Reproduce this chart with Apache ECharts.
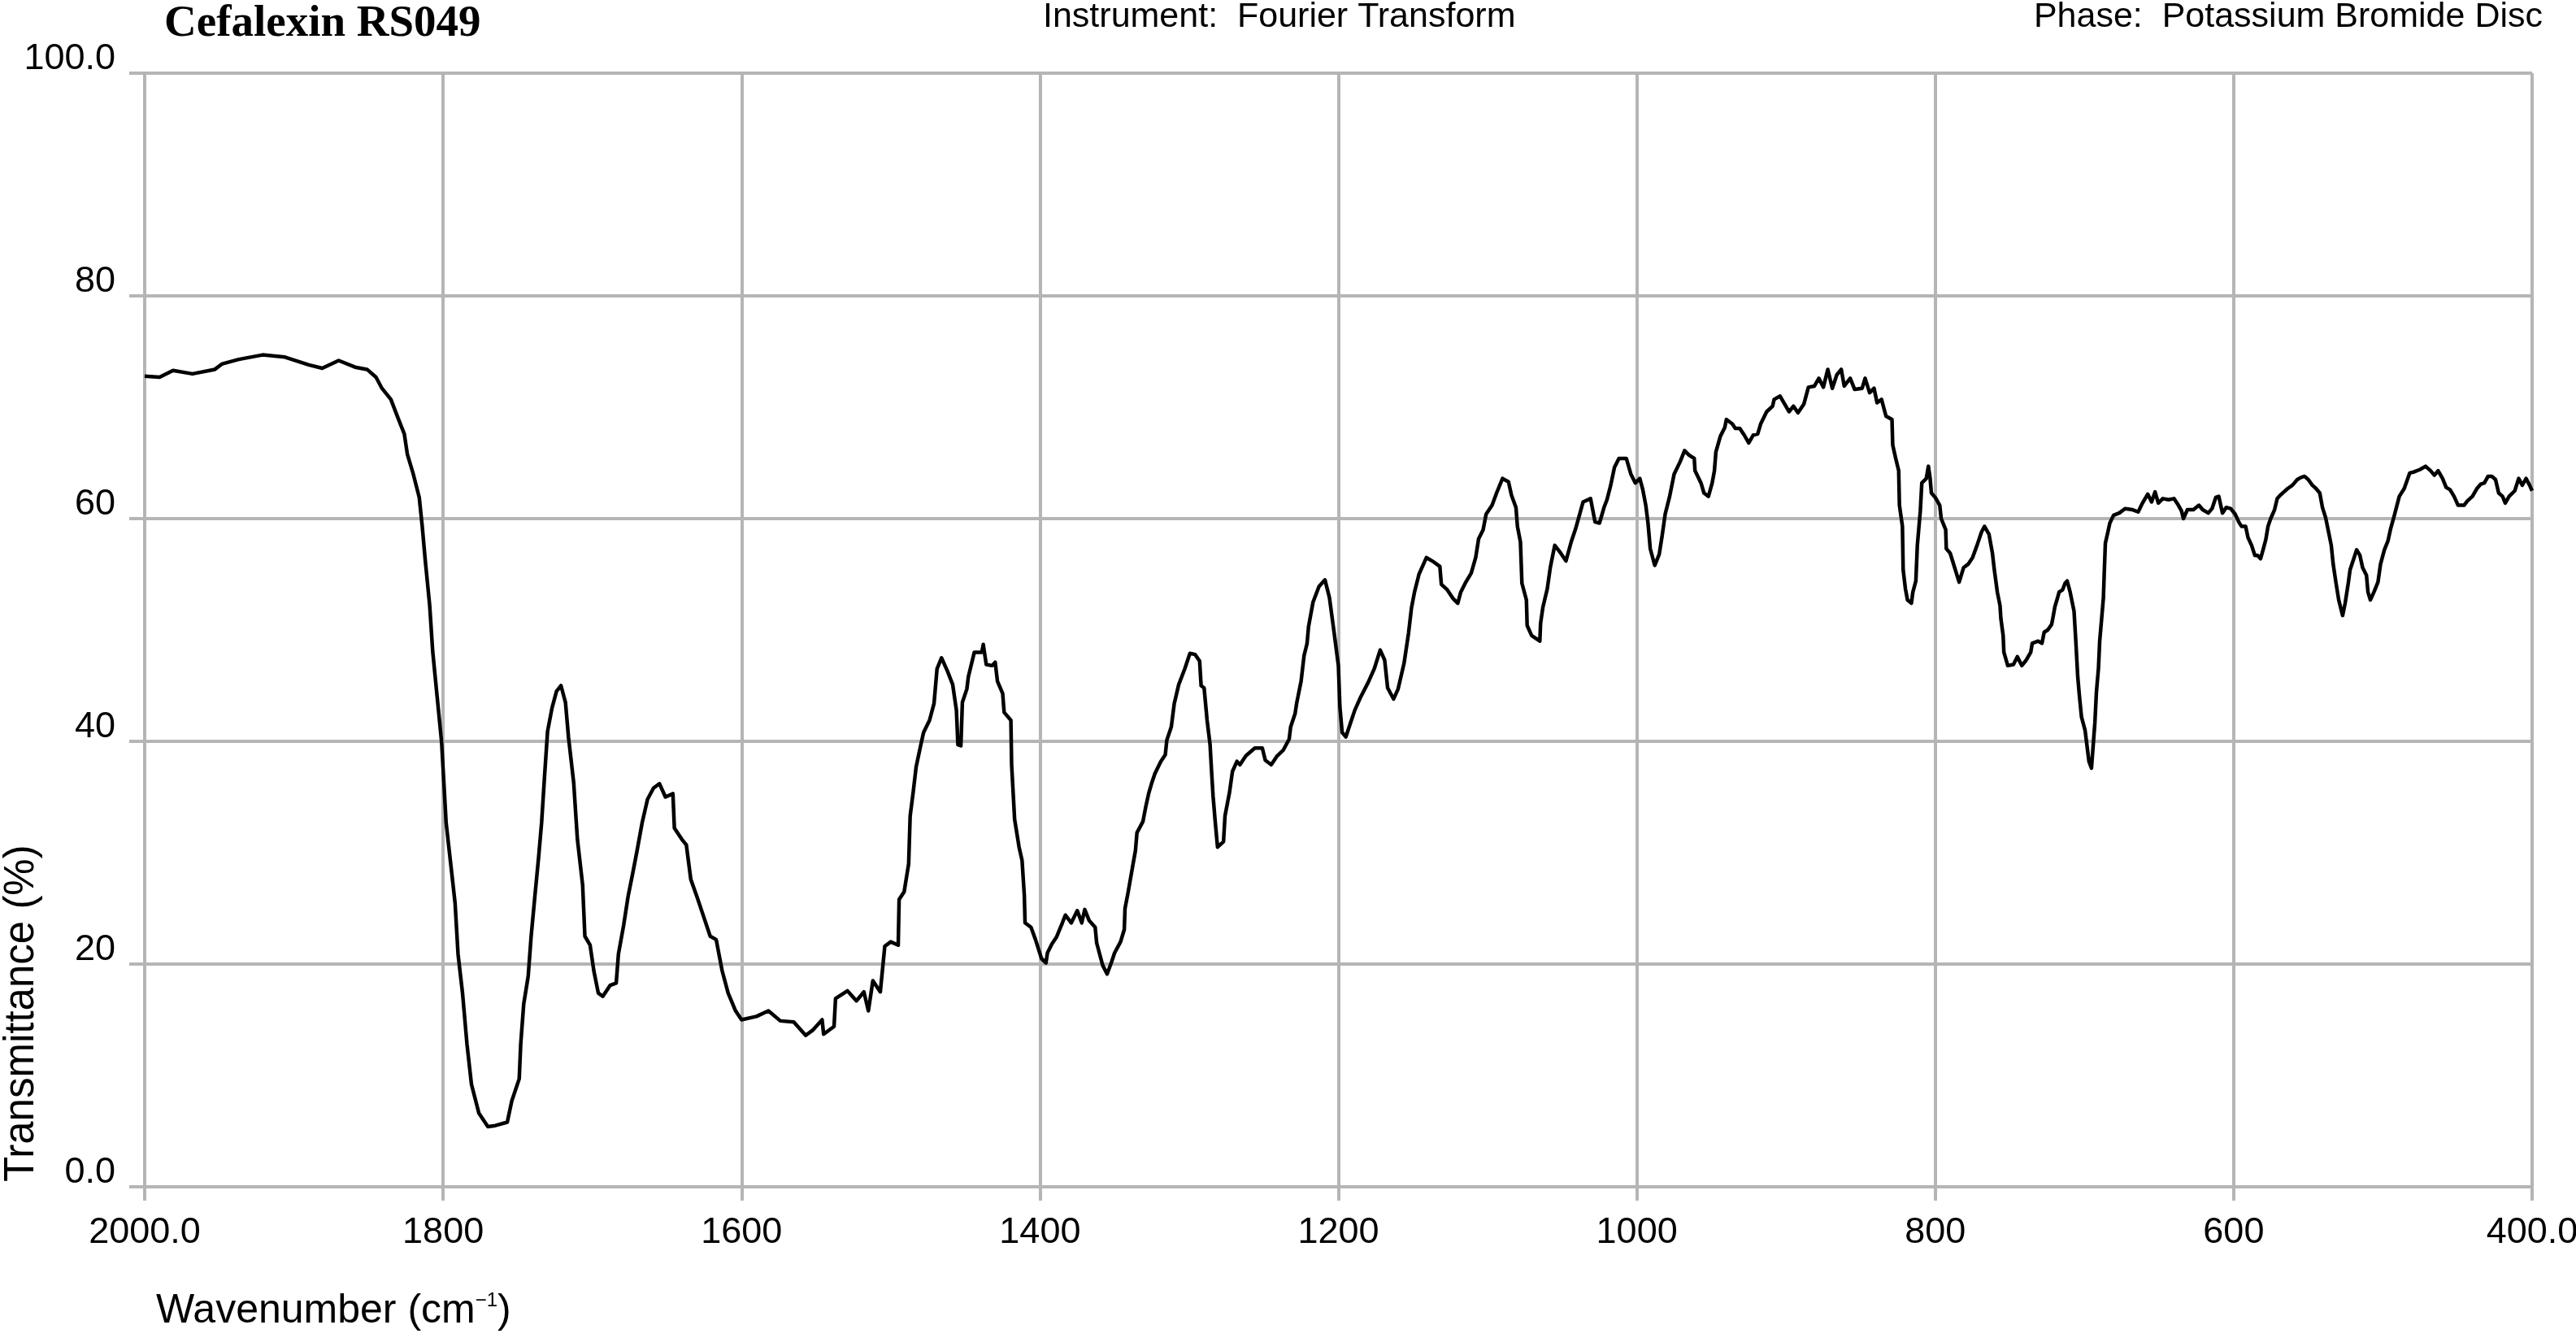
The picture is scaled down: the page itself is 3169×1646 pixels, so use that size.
<!DOCTYPE html>
<html>
<head>
<meta charset="utf-8">
<script src="https://cdn.jsdelivr.net/npm/echarts@6/dist/echarts.min.js"></script>
<style>
html,body{margin:0;padding:0;background:#ffffff;}
#chart{width:3169px;height:1646px;}
</style>
</head>
<body>
<div id="chart"></div>
<script>
// ---- texts ----
const chartTitle = 'Cefalexin RS049';
const instrumentText = 'Instrument:  Fourier Transform';
const phaseText = 'Phase:  Potassium Bromide Disc';
const xAxisTitleMain = 'Wavenumber (cm';
const xAxisTitleSup = '\u22121';
const xAxisTitleEnd = ')';
const yAxisTitle = 'Transmittance (%)';

// ---- tick labels ----
const xTickValues = [2000, 1800, 1600, 1400, 1200, 1000, 800, 600, 400];
const xTickLabels = ['2000.0', '1800', '1600', '1400', '1200', '1000', '800', '600', '400.0'];
const yTickValues = [0, 20, 40, 60, 80, 100];
const yTickLabels = ['0.0', '20', '40', '60', '80', '100.0'];

// ---- spectrum ----
const wavenumber = [
  2000,1990,1981,1968,1953,1948,1937,1921,1906,1890,
  1881,1870,1859,1851,1845,1841,1835,1831,1826,1824,
  1820,1816,1814,1812,1809,1807,1804,1801,1799.5,1798,
  1795,1792,1790,1787,1784,1781,1776,1770,1765,1757,
  1754,1749,1748,1746,1743,1741,1738.5,1736,1734,1732,
  1730,1727,1724,1721,1718,1716,1712.5,1710,1706.5,1705,
  1701.5,1699,1696,1693,1688,1684,1682.5,1679,1676,1673,
  1670,1666.6,1663,1659,1655,1651,1646,1645,1640,1637,
  1634,1630,1626,1621,1617,1613,1609,1604,1600,1590,
  1582,1574,1565,1557,1552,1546,1545,1538,1537,1529,
  1523,1518,1515,1512,1507,1504,1500,1495,1494.4,1491,
  1488,1487,1485,1483,1480,1478,1474,1471,1469,1466,
  1462,1458.5,1456,1455,1453,1452,1449,1448,1444,1439,
  1438,1436,1432,1430,1428.5,1425,1424,1419.5,1419,1417,
  1414,1412,1410.5,1410,1406,1403,1399,1396,1395,1392,
  1389,1385,1383,1379,1375,1372,1370,1367,1363,1362,
  1358,1355,1352,1350,1346,1343.5,1343,1341,1338,1336,
  1335,1331,1329,1327,1325,1323,1319,1316,1315,1312,
  1310,1307,1303,1299.5,1296,1293,1292,1290,1288,1286,
  1285,1284,1282.5,1281,1277,1276,1273,1271,1268,1266,
  1262,1256,1251,1249,1245,1241,1237,1233,1232,1229,
  1228,1225,1223,1221,1220,1217,1213,1209,1206,1203,
  1200,1199,1197.5,1195,1192,1189,1185,1180,1176,1172,
  1169,1167,1163,1160,1156,1153,1151,1149,1146,1143,
  1141,1136,1132,1131,1127,1123,1120,1118,1115,1111,
  1108,1106,1103,1101,1097,1094,1090,1086,1084,1081,
  1080,1078,1077,1074,1073.5,1070.5,1065,1064.5,1063,1060,
  1058,1055,1051,1047.5,1044,1041,1036,1031,1028,1025,
  1022,1020,1017.5,1015,1012,1007,1004,1001,998,996,
  994,992.5,991,988,985,983,981,978,975,971,
  968,965,961.5,961,957,955,952,949.5,948,947,
  944,941,940,936,934,931,928,925,922,919,
  917,913,909,908,904,901,898,895,892,888,
  885,881,878,875,872,869,866,863,861,857,
  854,849,847,844,841,839,836,833,829,828.5,
  826.5,824.5,824,822,821.5,820,818.6,816,815,813,
  812,810,809,806,804.6,803.5,802.6,800,797,796,
  793,792.6,790,787,784,781,778,775,772,769,
  767,764,761.7,760.4,758.4,756.6,756,754.5,754,751.4,
  747.6,745,742,739,736,735,731,728.5,727,724.6,
  722,721,719.8,718,717,714.7,713,711.6,709.6,707,
  705.8,704.5,703.4,702,699.6,698.2,697,695.3,693,692,
  690.6,689.8,688.5,687.3,686.8,686,684.3,683,680.5,676.7,
  672.8,667.8,664,661.5,657.6,655,652.7,650.5,647.5,643.7,
  640,637.5,635,633.7,631,627,623.3,620.8,617,614.5,
  612,610,607.5,605,602,599,596.6,594.7,592,590.4,
  588,585.8,584,582,580.3,578.5,577,575.2,572.6,570.8,
  568.8,566.3,563.8,560.6,557.4,554.9,552.5,550,547.3,544.8,
  542.3,540.5,538.4,536.4,534.6,533.3,531.4,529.6,527,525.3,
  523.2,522,519.3,517.6,515.4,513.6,511,510,508.4,506,
  503.3,501.6,499,496.6,494.8,492.3,489,485.7,482,479,
  475.3,471.4,468,465.5,463,460,457.6,455,452.3,449.6,
  445.6,443.3,440,437,434.4,432,429.5,427,424.5,422.4,
  419.8,418,415.4,411.6,409,406.6,404,401.7,400
];
const transmittance = [
  72.8,72.7,73.3,73.0,73.4,73.9,74.3,74.7,74.5,73.8,
  73.5,74.2,73.6,73.4,72.7,71.7,70.7,69.3,67.6,65.8,
  64.0,61.9,59.3,56.3,52.2,48.1,44.0,39.9,36.3,32.7,
  29.1,25.5,20.9,17.4,12.8,9.2,6.6,5.4,5.5,5.8,
  7.7,9.7,12.8,16.4,18.9,22.5,26.1,29.6,32.7,36.9,
  40.9,43.0,44.5,45.0,43.5,40.4,36.3,31.2,27.1,22.5,
  21.7,19.4,17.4,17.1,18.1,18.3,20.9,23.5,26.1,28.1,
  30.2,32.7,34.8,35.8,36.2,35.0,35.3,32.2,31.2,30.7,
  27.6,26.1,24.5,22.5,22.2,19.4,17.4,15.8,15.0,15.3,
  15.8,14.9,14.8,13.6,14.1,15.0,13.7,14.4,16.9,17.6,
  16.7,17.5,15.8,18.5,17.5,21.6,22.0,21.7,25.8,26.5,
  29.0,33.3,35.4,37.7,39.6,40.8,41.9,43.4,46.5,47.5,
  46.3,45.1,42.8,39.7,39.6,43.5,44.7,45.8,48.0,48.0,
  48.7,46.9,46.8,47.1,45.4,44.3,42.6,41.9,37.9,33.0,
  30.5,29.3,26.2,23.7,23.3,22.2,20.5,20.1,21.0,21.8,
  22.4,23.7,24.4,23.7,24.8,23.7,24.9,23.9,23.3,21.9,
  19.9,19.1,20.2,21.0,22.0,23.1,25.0,26.4,28.7,30.2,
  31.8,32.8,34.2,35.4,36.3,37.1,38.2,38.8,40.1,41.3,
  43.4,45.1,46.5,47.9,47.8,47.2,45.0,44.8,41.9,39.7,
  37.3,35.1,32.7,30.5,31.0,33.3,35.4,37.3,38.2,37.9,
  38.7,39.4,39.4,38.3,37.9,38.7,39.2,40.2,41.3,42.5,
  43.4,45.4,47.7,48.8,50.3,52.5,53.9,54.5,52.9,49.9,
  46.8,43.1,40.8,40.4,41.6,42.8,44.0,45.3,46.5,48.2,
  47.3,44.8,43.8,44.7,47.0,49.7,52.0,53.4,55.0,55.9,
  56.5,56.1,55.7,54.1,53.6,52.8,52.4,53.4,54.2,55.1,
  56.5,58.2,59.0,60.4,61.2,62.3,63.6,63.3,62.1,61.0,
  59.3,57.9,54.2,52.7,50.4,49.5,49.0,50.6,52.0,53.7,
  55.6,57.6,56.9,56.2,57.9,59.1,61.5,61.8,59.7,59.6,
  61.0,61.7,63.0,64.6,65.4,65.4,64.0,63.2,63.6,62.6,
  61.2,59.6,57.3,55.8,56.8,58.5,60.4,62.0,64.0,65.1,
  66.1,65.7,65.4,64.3,63.2,62.3,62.0,63.2,64.3,66.0,
  67.4,68.2,68.9,68.5,68.1,68.1,67.5,66.8,67.5,67.6,
  68.5,69.6,70.1,70.7,71.0,70.3,69.6,70.1,69.5,70.3,
  71.8,71.9,72.6,71.8,73.4,71.7,72.9,73.4,71.9,72.6,
  71.6,71.7,72.6,71.3,71.7,70.4,70.7,69.2,68.9,66.6,
  65.4,64.3,61.2,59.3,55.4,53.7,52.7,52.4,53.4,54.4,
  57.6,60.7,63.2,63.6,64.7,63.7,62.3,61.9,61.2,60.0,
  59.0,57.3,56.9,55.6,54.3,55.6,55.9,56.5,57.6,58.8,
  59.3,58.6,56.9,55.4,53.4,52.2,51.0,49.5,48.0,46.8,
  46.9,47.6,46.8,47.3,48.0,48.8,49.0,48.8,49.8,50.0,
  50.5,51.2,52.1,52.9,53.4,53.6,54.2,54.4,53.4,51.7,
  49.0,45.8,44.1,42.2,41.0,39.5,38.2,37.6,41.7,44.4,
  46.6,49.0,51.0,52.9,54.9,57.8,58.8,59.6,60.3,60.5,
  60.9,60.8,60.6,61.3,62.2,61.5,62.4,61.4,61.8,61.7,
  61.8,61.3,60.7,60.0,60.8,60.8,61.2,60.8,60.5,60.9,
  61.9,62.0,60.5,61.0,60.9,60.4,59.7,59.3,59.3,58.3,
  57.6,56.7,56.7,56.4,57.2,58.1,59.3,60.0,60.8,61.8,
  62.1,62.4,62.7,63.0,63.5,63.7,63.8,63.5,63.0,62.7,
  62.3,61.0,60.1,58.8,57.6,55.9,54.2,52.7,51.3,52.4,
  54.2,55.4,56.5,57.2,56.7,55.6,54.9,53.4,52.7,53.4,
  54.3,55.9,57.2,58.0,59.1,60.3,62.0,62.7,64.1,64.2,
  64.4,64.7,64.3,63.9,64.3,63.6,62.8,62.6,62.0,61.2,
  61.2,61.6,62.0,62.7,63.1,63.2,63.8,63.8,63.5,62.3,
  62.0,61.4,62.0,62.5,63.6,63.0,63.6,63.0,62.5
];

// ---- font availability (narrow sans for tick labels) ----
function fontAvailable(name) {
  const ctx = document.createElement('canvas').getContext('2d');
  const s = '0123456789.0 Narrow';
  ctx.font = '60px monospace';
  const a = ctx.measureText(s).width;
  ctx.font = '60px "' + name + '", monospace';
  const b = ctx.measureText(s).width;
  ctx.font = '60px serif';
  const c = ctx.measureText(s).width;
  ctx.font = '60px "' + name + '", serif';
  const d = ctx.measureText(s).width;
  return a !== b || c !== d;
}
let tickFont = '"Liberation Sans", Arial, sans-serif';
let tickSize = 45;
let yLabelLH = 34;
if (fontAvailable('Liberation Sans Narrow')) { tickFont = '"Liberation Sans Narrow"'; tickSize = 54; yLabelLH = 40; }
else if (fontAvailable('Arial Narrow')) { tickFont = '"Arial Narrow"'; tickSize = 54; yLabelLH = 40; }

const GRID = '#b5b5b5';
const seriesData = [];
const n = Math.min(wavenumber.length, transmittance.length);
for (let i = 0; i < n; i++) seriesData.push([wavenumber[i], transmittance[i]]);

const chart = echarts.init(document.getElementById('chart'), null, { renderer: 'canvas' });
const option = {
  animation: false,
  backgroundColor: '#ffffff',
  grid: { left: 178, right: 54, top: 90, bottom: 186, containLabel: false, outerBoundsMode: 'none' },
  xAxis: {
    type: 'value',
    inverse: true,
    min: 400,
    max: 2000,
    interval: 200,
    axisLine: { show: true, lineStyle: { color: GRID, width: 4 } },
    axisTick: { show: true, inside: false, length: 17, lineStyle: { color: GRID, width: 4 } },
    splitLine: { show: true, lineStyle: { color: GRID, width: 4 } },
    axisLabel: {
      show: true, margin: 34, color: '#000', fontFamily: tickFont, fontSize: tickSize,
      showMinLabel: true, showMaxLabel: true,
      formatter: function (v) { const k = xTickValues.indexOf(v); return k >= 0 ? xTickLabels[k] : ''; }
    }
  },
  yAxis: {
    type: 'value',
    min: 0,
    max: 100,
    interval: 20,
    axisLine: { show: true, lineStyle: { color: GRID, width: 4 } },
    axisTick: { show: true, inside: false, length: 19, lineStyle: { color: GRID, width: 4 } },
    splitLine: { show: true, lineStyle: { color: GRID, width: 4 } },
    axisLabel: {
      show: true, margin: 36, color: '#000', fontFamily: tickFont, fontSize: tickSize,
      verticalAlign: 'bottom', lineHeight: yLabelLH,
      showMinLabel: true, showMaxLabel: true,
      formatter: function (v) { const k = yTickValues.indexOf(v); return k >= 0 ? yTickLabels[k] : ''; }
    }
  },
  series: [{
    type: 'line',
    data: seriesData,
    showSymbol: false,
    symbol: 'none',
    smooth: false,
    silent: true,
    lineStyle: { color: '#000000', width: 4.5, join: 'round' },
    z: 5
  }],
  graphic: [
    { type: 'text', left: 202, top: 2, silent: true,
      style: { text: chartTitle, fill: '#000', font: 'bold 55px "Liberation Serif", "Times New Roman", serif' } },
    { type: 'text', left: 1283, top: 0, silent: true,
      style: { text: instrumentText, fill: '#000', font: '43px "Liberation Sans", Arial, sans-serif' } },
    { type: 'text', right: 41, top: 0, silent: true,
      style: { text: phaseText, fill: '#000', font: '43px "Liberation Sans", Arial, sans-serif' } },
    { type: 'text', left: 192, top: 1588, silent: true,
      style: {
        text: xAxisTitleMain + '{sup|' + xAxisTitleSup + '}' + xAxisTitleEnd,
        fill: '#000', font: '50px "Liberation Sans", Arial, sans-serif',
        rich: { sup: { fontSize: 24, fontFamily: '"Liberation Sans", Arial, sans-serif', verticalAlign: 'top', fill: '#000' } }
      } },
    { type: 'text', x: 27, y: 1454, rotation: Math.PI / 2, silent: true,
      style: { text: yAxisTitle, fill: '#000', font: '51px "Liberation Sans", Arial, sans-serif',
               align: 'left', verticalAlign: 'middle' } }
  ]
};
chart.setOption(option);
</script>
</body>
</html>
